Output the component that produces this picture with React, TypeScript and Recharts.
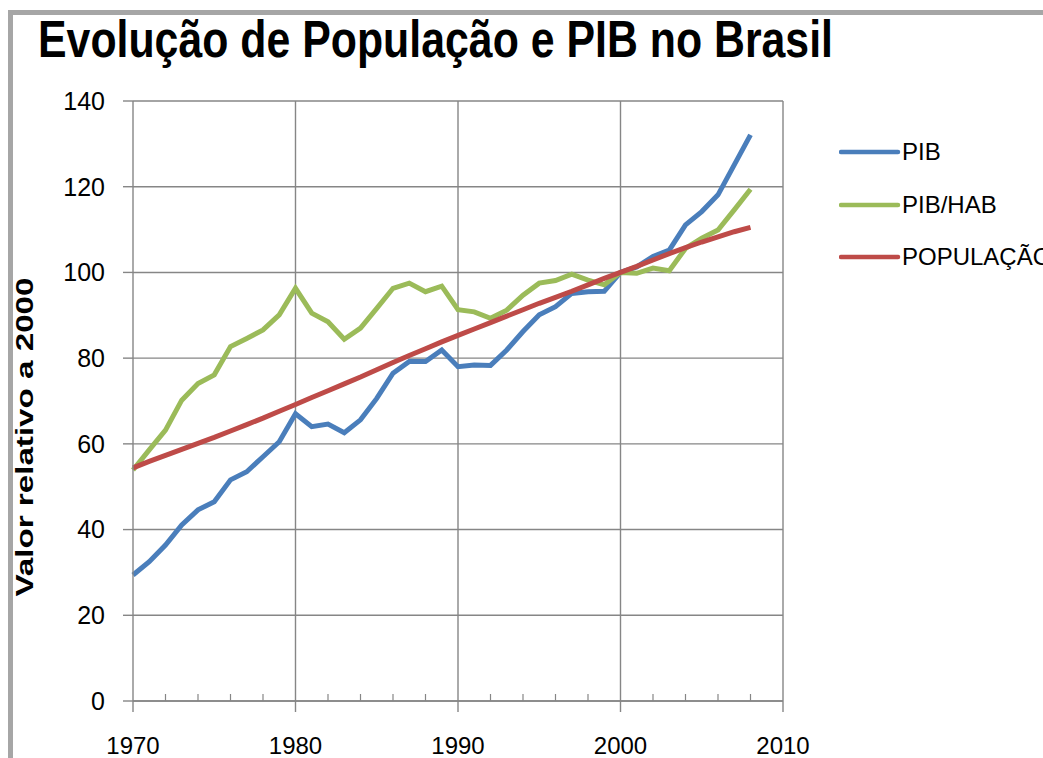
import React from 'react';
import { LineChart, Line, XAxis, YAxis, CartesianGrid, Legend, ReferenceLine } from 'recharts';

const years = [
  1970, 1971, 1972, 1973, 1974, 1975, 1976, 1977, 1978, 1979,
  1980, 1981, 1982, 1983, 1984, 1985, 1986, 1987, 1988, 1989,
  1990, 1991, 1992, 1993, 1994, 1995, 1996, 1997, 1998, 1999,
  2000, 2001, 2002, 2003, 2004, 2005, 2006, 2007, 2008,
];
const pib = [
  29.4, 32.5, 36.4, 41.1, 44.6, 46.5, 51.6, 53.5, 57.0, 60.5,
  67.0, 64.0, 64.6, 62.6, 65.6, 70.6, 76.5, 79.2, 79.2, 81.9,
  78.0, 78.4, 78.3, 81.9, 86.2, 90.1, 92.0, 95.1, 95.5, 95.6,
  100, 101.3, 103.7, 105.2, 111.1, 114.2, 118.1, 125.1, 132.1,
];
const pibHab = [
  53.9, 58.6, 63.2, 70.2, 74.1, 76.1, 82.7, 84.6, 86.6, 90.1,
  96.3, 90.5, 88.5, 84.4, 87.0, 91.6, 96.3, 97.5, 95.5, 96.8,
  91.3, 90.8, 89.3, 91.2, 94.7, 97.5, 98.1, 99.6, 98.2, 97.1,
  100, 99.8, 101.0, 100.4, 105.6, 108.0, 109.9, 114.6, 119.4,
];
const populacao = [
  54.4, 55.9, 57.3, 58.7, 60.1, 61.5, 63.0, 64.5, 66.0, 67.6,
  69.2, 70.8, 72.4, 74.0, 75.6, 77.3, 79.0, 80.6, 82.2, 83.8,
  85.3, 86.8, 88.3, 89.8, 91.3, 92.8, 94.2, 95.6, 97.1, 98.6,
  100, 101.4, 102.9, 104.4, 105.8, 107.1, 108.3, 109.5, 110.5,
];
const xMajorTicks = [1970, 1980, 1990, 2000, 2010];
const xGridLines = [1980, 1990, 2000, 2010];
const xAllTicks = [
  1970, 1972, 1974, 1976, 1978, 1980, 1982, 1984, 1986, 1988, 1990,
  1992, 1994, 1996, 1998, 2000, 2002, 2004, 2006, 2008, 2010,
];
const yTicks = [0, 20, 40, 60, 80, 100, 120, 140];

const data = years.map((year, i) => ({
  year,
  pib: pib[i],
  pibHab: pibHab[i],
  populacao: populacao[i],
}));

const FONT = '"Liberation Sans", Arial, sans-serif';
const GRID = '#868686';

const XTick = (props: any) => {
  const { x, y, payload } = props;
  const major = xMajorTicks.includes(payload.value);
  if (!major) {
    return <line x1={x} y1={y - 7} x2={x} y2={y} stroke={GRID} strokeWidth={1.2} />;
  }
  return (
    <g>
      <line x1={x} y1={y} x2={x} y2={y + 11} stroke={GRID} strokeWidth={1.4} />
      <text x={x} y={y + 36} dy="0.71em" textAnchor="middle" fontSize={24} fontFamily={FONT} fill="#000">
        {payload.value}
      </text>
    </g>
  );
};

const LegendContent = (props: any) => {
  const { payload } = props;
  return (
    <div style={{ fontFamily: FONT, whiteSpace: 'nowrap', width: 0, height: 0, overflow: 'visible' }}>
      {(payload || []).map((entry: any) => (
        <div key={entry.value} style={{ height: 52.5, display: 'flex', alignItems: 'center' }}>
          <svg width={62} height={10} style={{ display: 'block', flex: 'none' }}>
            <line x1={2} y1={5} x2={59} y2={5} stroke={entry.color} strokeWidth={4.5} strokeLinecap="round" />
          </svg>
          <span style={{ fontSize: 24, color: '#000', marginLeft: 1 }}>{entry.value}</span>
        </div>
      ))}
    </div>
  );
};

export default function App() {
  return (
    <div style={{ position: 'absolute', left: 0, top: 0, width: 1043, height: 758, overflow: 'hidden', background: '#fff' }}>
      <div style={{ position: 'absolute', left: 8, top: 10, width: 1200, height: 900, borderLeft: '5px solid #a6a6a6', borderTop: '5px solid #a6a6a6' }} />
      <div style={{ position: 'absolute', left: 0, top: 0 }}>
        <LineChart width={1043} height={758} data={data} margin={{ top: 101, right: 260, bottom: 0, left: 0 }}>
          <CartesianGrid stroke={GRID} strokeWidth={1.4} vertical={false} />
          {xGridLines.map((v) => (
            <ReferenceLine key={v} x={v} stroke={GRID} strokeWidth={1.4} />
          ))}
          <XAxis
            dataKey="year"
            type="number"
            domain={[1970, 2010]}
            ticks={xAllTicks}
            interval={0}
            height={57}
            tickSize={0}
            tickMargin={0}
            tickLine={false}
            axisLine={{ stroke: GRID, strokeWidth: 1.4 }}
            tick={<XTick />}
          />
          <YAxis
            domain={[0, 140]}
            ticks={yTicks}
            width={133}
            tickSize={10}
            tickMargin={18}
            axisLine={{ stroke: GRID, strokeWidth: 1.4 }}
            tickLine={{ stroke: GRID, strokeWidth: 1.4 }}
            tick={{ fill: '#000', fontSize: 25, fontFamily: FONT }}
          />
          <Legend
            layout="horizontal"
            verticalAlign="middle"
            align="right"
            content={<LegendContent />}
            wrapperStyle={{ position: 'absolute', left: 839, top: 126, width: 0, height: 0, overflow: 'visible' }}
          />
          <Line type="linear" dataKey="pib" name="PIB" stroke="#4A7EBB" strokeWidth={5} dot={false} isAnimationActive={false} />
          <Line type="linear" dataKey="pibHab" name="PIB/HAB" stroke="#9BBB59" strokeWidth={5} dot={false} isAnimationActive={false} />
          <Line type="linear" dataKey="populacao" name="POPULAÇÃO" stroke="#BE4B48" strokeWidth={5} dot={false} isAnimationActive={false} />
        </LineChart>
      </div>
      <svg width={1043} height={758} style={{ position: 'absolute', left: 0, top: 0, pointerEvents: 'none' }}>
        <text x={38} y={57} fontSize={52} fontWeight="bold" fontFamily={FONT} textLength={795} lengthAdjust="spacingAndGlyphs" fill="#000">
          Evolução de População e PIB no Brasil
        </text>
        <text
          transform="translate(33,437) rotate(-90)"
          textAnchor="middle"
          fontSize={23}
          fontWeight="bold"
          fontFamily={FONT}
          textLength={319}
          lengthAdjust="spacingAndGlyphs"
          fill="#000"
        >
          Valor relativo a 2000
        </text>
      </svg>
    </div>
  );
}
